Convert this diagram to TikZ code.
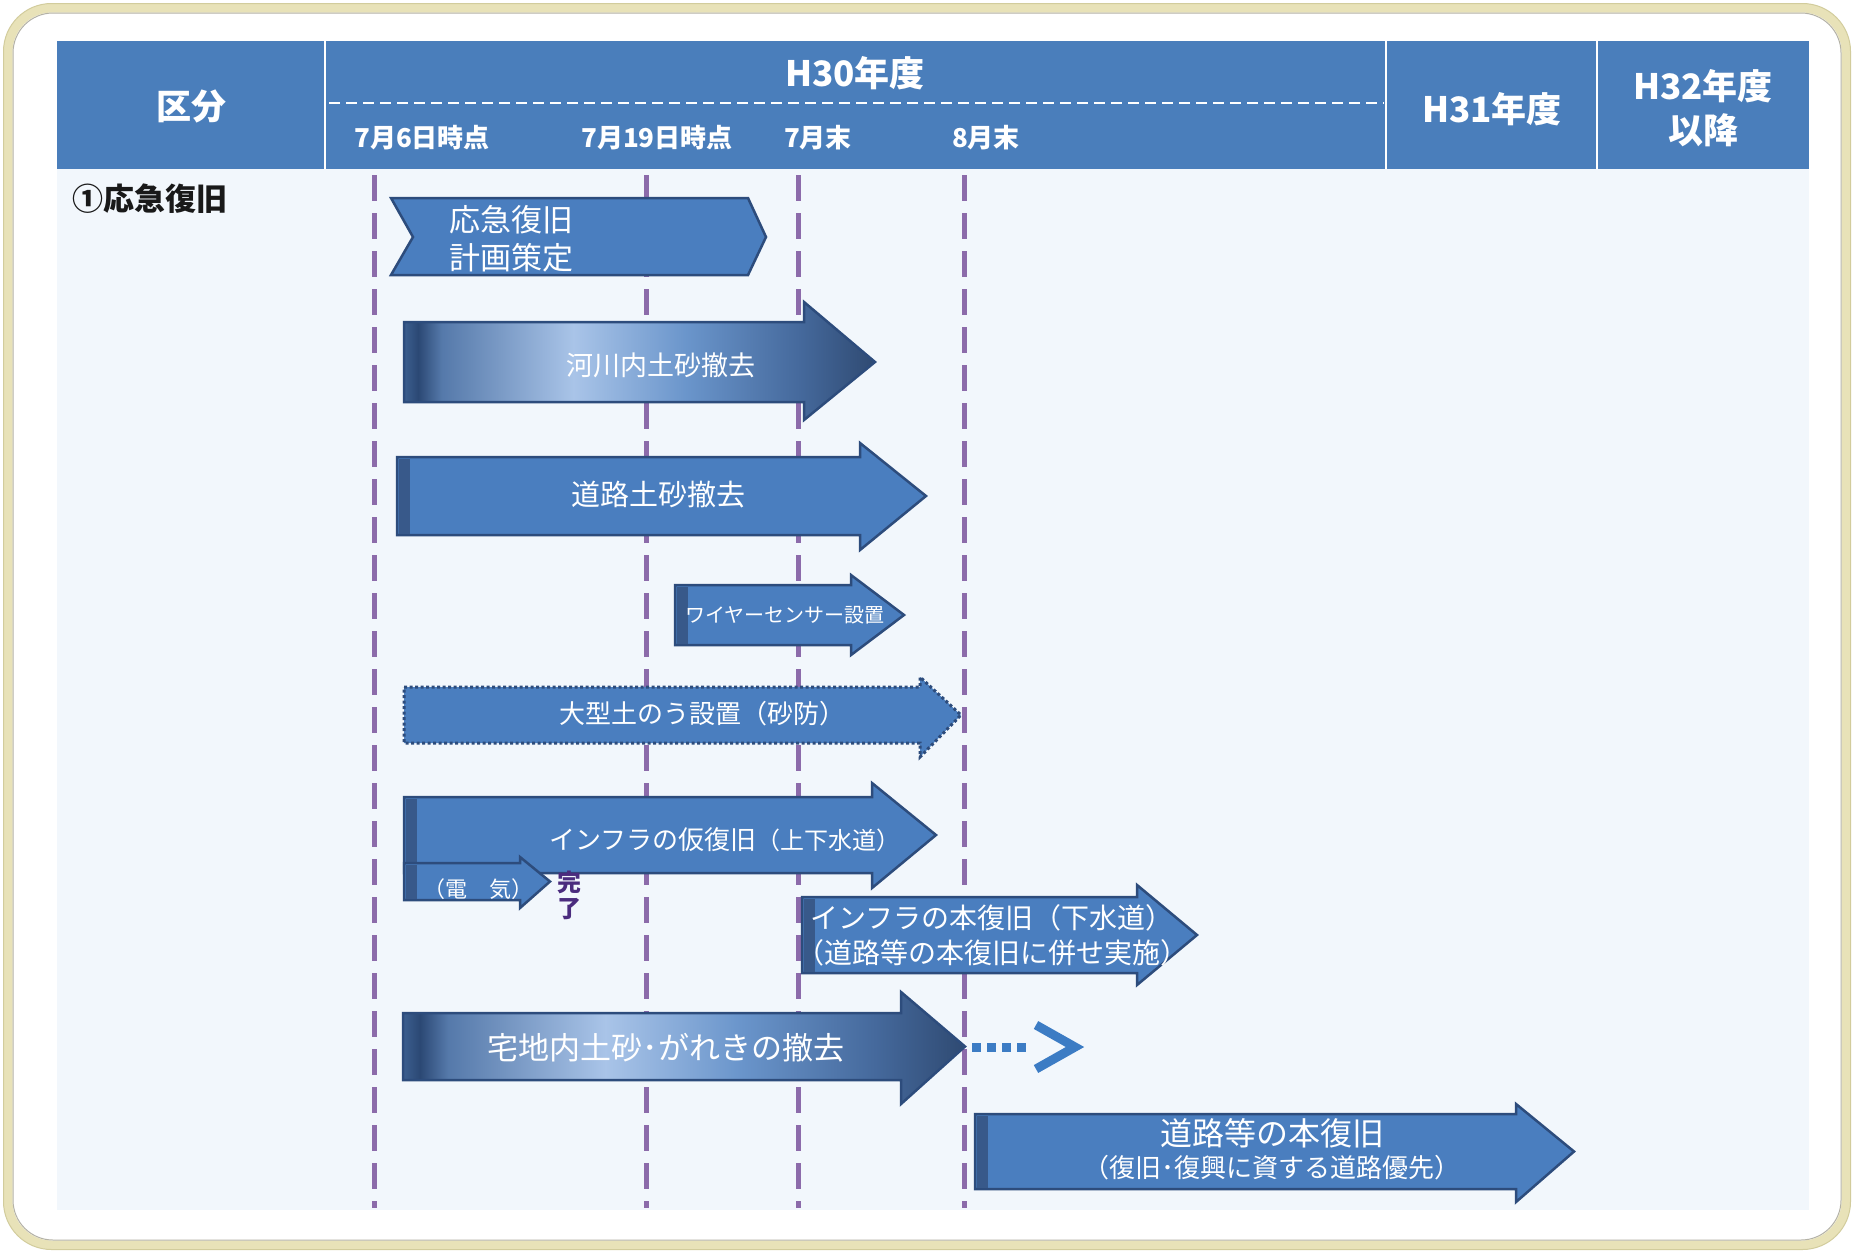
\documentclass[tikz,border=0pt]{standalone}
\usepackage{fontspec}
\newfontfamily\jp{Noto Sans CJK JP}
\definecolor{hdr}{HTML}{4A7EBB}
\definecolor{bodybg}{HTML}{F2F7FC}
\definecolor{framecol}{HTML}{E8E2B8}
\definecolor{framedk}{HTML}{D2CC9C}
\definecolor{frameln}{HTML}{B4B2A6}
\definecolor{vpurple}{HTML}{8C6BAA}
\definecolor{arr}{HTML}{4A7EBF}
\definecolor{arrdk}{HTML}{2D4C7C}
\definecolor{arrstrip}{HTML}{38598A}
\definecolor{dotblue}{HTML}{3C7CC4}
\definecolor{kanryo}{HTML}{4B2C7E}
\definecolor{mdk}{HTML}{3C5F8F}
\definecolor{mdkb}{HTML}{2B4874}
\definecolor{mone}{HTML}{5579AA}
\definecolor{mlt}{HTML}{A9C4E8}
\definecolor{mtwo}{HTML}{6A95CB}
\definecolor{mthree}{HTML}{45699C}
\definecolor{mend}{HTML}{2F4A72}
\pgfdeclarehorizontalshading{metal}{100bp}{color(0bp)=(mdk); color(25bp)=(mdk); color(26.5bp)=(mdkb); color(29bp)=(mone); color(43bp)=(mlt); color(55bp)=(mtwo); color(67bp)=(mthree); color(75bp)=(mend); color(100bp)=(mend)}
\newcommand{\blockarrow}[8]{\path[#1] (#2,#3) -- (#5,#3) -- (#5,#6) -- (#8,{(#3+#4)/2}) -- (#5,#7) -- (#5,#4) -- (#2,#4) -- cycle;}
\newcommand{\leftstrip}[3]{\fill[arrstrip] ({#1+1.5},{#2+1.5}) rectangle ({#1+13},{#3-1.5});}
\begin{document}
\begin{tikzpicture}[x=1pt,y=-1pt,
  solidarrow/.style={fill=arr, draw=arrdk, line width=2.5pt, line join=miter},
  metalarrow/.style={shade, shading=metal, draw=arrdk, line width=2.5pt},
  dotarrow/.style={fill=arr, draw=arrdk, line width=3pt, dash pattern=on 3pt off 2.5pt},
  vline/.style={draw=vpurple, line width=5pt, dash pattern=on 26pt off 12pt},
  hdtext/.style={text=white, inner sep=0pt, font={\jp\bfseries\fontsize{35}{44}\selectfont}, align=center},
  subtext/.style={text=white, inner sep=0pt, font={\jp\bfseries\fontsize{26}{30}\selectfont}},
  tx/.style={text=white, inner sep=0pt},
]
\useasboundingbox (0,0) rectangle (1854,1253);
\fill[white] (0,0) rectangle (1854,1253);
% frame
\draw[framecol, line width=9pt, rounded corners=44pt] (8,8) rectangle (1846,1245);
\draw[framedk, line width=1pt, rounded corners=48pt] (3.5,3.5) rectangle (1850.5,1249.5);
\draw[frameln, line width=1pt, rounded corners=40pt] (13,13) rectangle (1841,1240);
% body & header
\fill[bodybg] (57,169) rectangle (1809,1210);
\fill[hdr] (57,41) rectangle (1809,169);
\draw[white, line width=2pt] (325,41) -- (325,169);
\draw[white, line width=2pt] (1386,41) -- (1386,169);
\draw[white, line width=2pt] (1597,41) -- (1597,169);
\draw[white, line width=2.5pt, dash pattern=on 11pt off 6pt] (329,103) -- (1384,103);
\node[hdtext] (kubun) at (191,106) {区分};
\node[hdtext] (h30) at (855,73) {H30年度};
\node[hdtext] (h31) at (1492,109) {H31年度};
\node[hdtext] (h32) at (1703,108) {H32年度\\以降};
\node[subtext] (d1) at (422,138) {7月6日時点};
\node[subtext] (d2) at (657,138) {7月19日時点};
\node[subtext] (d3) at (818,138) {7月末};
\node[subtext] (d4) at (986,138) {8月末};
\node[inner sep=0pt, anchor=west, text=black!90, font={\jp\bfseries\fontsize{31}{36}\selectfont}] (sec1) at (72,199) {①応急復旧};
% vertical time lines
\coordinate (v1t) at (374,175); \coordinate (v1b) at (374,1208);
\coordinate (v2t) at (646,175); \coordinate (v2b) at (646,1208);
\coordinate (v3t) at (798,175); \coordinate (v3b) at (798,1208);
\coordinate (v4t) at (964,175); \coordinate (v4b) at (964,1208);
\draw[vline] (v1t) -- (v1b);
\draw[vline] (v2t) -- (v2b);
\draw[vline] (v3t) -- (v3b);
\draw[vline] (v4t) -- (v4b);
% 1 chevron
\path[solidarrow] (391,198) -- (748,198) -- (766,237) -- (748,275) -- (391,275) -- (413,237) -- cycle;
\node[tx, anchor=west, align=left, font={\jp\fontsize{31}{38}\selectfont}] (a1) at (449,239) {応急復旧\\計画策定};
% 2
\blockarrow{metalarrow}{404}{322}{402}{804}{302}{420}{875}
\node[tx, font={\jp\fontsize{27}{32}\selectfont}] (a2) at (661,365) {河川内土砂撤去};
% 3
\blockarrow{solidarrow}{397}{457}{535}{860}{443}{550}{926}
\leftstrip{397}{457}{535}
\node[tx, font={\jp\fontsize{29}{34}\selectfont}] (a3) at (658,495) {道路土砂撤去};
% 4
\blockarrow{solidarrow}{675}{585}{645}{851}{575}{655}{904}
\leftstrip{675}{585}{645}
\node[tx, font={\jp\fontsize{20}{24}\selectfont}] (a4) at (785,615) {ワイヤーセンサー設置};
% 5
\blockarrow{dotarrow}{404}{687}{743}{920}{677}{757}{961}
\node[tx, font={\jp\fontsize{26}{30}\selectfont}] (a5) at (702,714) {大型土のう設置（砂防）};
% 6
\blockarrow{solidarrow}{404}{797}{873}{872}{783}{888}{936}
\leftstrip{404}{797}{873}
\node[tx, font={\jp\fontsize{26}{30}\selectfont}] (a6) at (725,840) {インフラの仮復旧{\fontsize{24}{28}\selectfont （上下水道）}};
% 7
\blockarrow{solidarrow}{404}{863}{900}{520}{857}{908}{550}
\leftstrip{404}{863}{900}
\node[tx, font={\jp\fontsize{22}{26}\selectfont}] (a7) at (478,889) {（電　気）};
\node[inner sep=0pt, text=kanryo, align=center, font={\jp\bfseries\fontsize{24}{26}\selectfont}] (a7k) at (569,895) {完\\了};
% 8
\blockarrow{solidarrow}{802}{897}{973}{1137}{885}{985}{1197}
\leftstrip{802}{897}{973}
\node[tx, align=center, font={\jp\fontsize{28}{35}\selectfont}] (a8) at (992,935) {インフラの本復旧（下水道）\\（道路等の本復旧に併せ実施）};
% 9
\blockarrow{metalarrow}{403}{1013}{1080}{901}{992}{1104}{965}
\node[tx, font={\jp\fontsize{31}{36}\selectfont}] (a9) at (666,1048) {宅地内土砂･がれきの撤去};
\coordinate (dA) at (972,1047);
\coordinate (dB) at (1030,1047);
\draw[dotblue, line width=9pt, dash pattern=on 9pt off 6pt] (dA) -- (dB);
\coordinate (cvT) at (1036,1025);
\coordinate (cvM) at (1075,1047);
\coordinate (cvB) at (1036,1069);
\draw[dotblue, line width=9pt, line join=miter] (cvT) -- (cvM) -- (cvB);
% 10
\blockarrow{solidarrow}{975}{1114}{1189}{1516}{1104}{1202}{1574}
\leftstrip{975}{1114}{1189}
\node[tx, font={\jp\fontsize{32}{36}\selectfont}] (a10) at (1272,1133) {道路等の本復旧};
\node[tx, font={\jp\fontsize{26}{30}\selectfont}] (a10b) at (1272,1168) {（復旧･復興に資する道路優先）};
\end{tikzpicture}
\end{document}
